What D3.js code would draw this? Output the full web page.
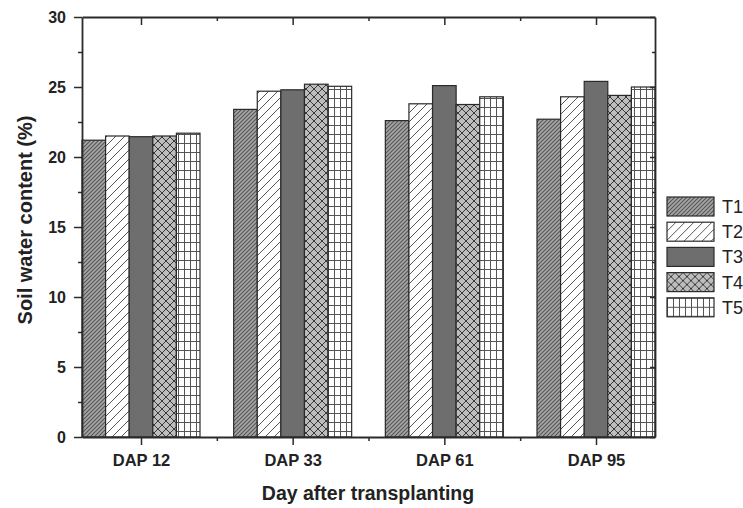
<!DOCTYPE html>
<html>
<head>
<meta charset="utf-8">
<script src="https://cdn.jsdelivr.net/npm/d3@7"></script>
<style>
  html, body { margin: 0; padding: 0; background: #fff; }
  svg { display: block; }
  text { font-family: "Liberation Sans", Arial, sans-serif; fill: #222; }
</style>
</head>
<body>
<svg id="chart" width="743" height="508"></svg>
<script>
// data
var days = ["DAP 12", "DAP 33", "DAP 61", "DAP 95"];
var treatments = ["T1", "T2", "T3", "T4", "T5"];
var T1 = [21.2, 23.4, 22.6, 22.7];
var T2 = [21.5, 24.7, 23.8, 24.3];
var T3 = [21.45, 24.8, 25.1, 25.4];
var T4 = [21.5, 25.2, 23.75, 24.4];
var T5 = [21.7, 25.05, 24.3, 25.0];
var yTicks = [0, 5, 10, 15, 20, 25, 30];

var series = [T1, T2, T3, T4, T5];

var margin = { top: 17, right: 88, bottom: 71, left: 82 };
var width = 743 - margin.left - margin.right;
var height = 508 - margin.top - margin.bottom;

var svg = d3.select("#chart");
var defs = svg.append("defs");

// hatch patterns, one per treatment
function pat(id, size, bg, draw) {
  var p = defs.append("pattern")
    .attr("id", id)
    .attr("patternUnits", "userSpaceOnUse")
    .attr("width", size).attr("height", size);
  p.append("rect").attr("width", size).attr("height", size).attr("fill", bg);
  draw(p, size);
}
pat("p1", 4, "#a6a6a6", function (p, s) {
  p.append("path").attr("d", "M0," + s + "L" + s + ",0M-1,1L1,-1M" + (s - 1) + "," + (s + 1) + "L" + (s + 1) + "," + (s - 1))
    .attr("stroke", "#555").attr("stroke-width", 1.1);
});
pat("p2", 9, "#fff", function (p, s) {
  p.append("path").attr("d", "M0," + s + "L" + s + ",0M-1,1L1,-1M" + (s - 1) + "," + (s + 1) + "L" + (s + 1) + "," + (s - 1))
    .attr("stroke", "#444").attr("stroke-width", 0.9);
});
pat("p3", 4, "#6e6e6e", function () {});
pat("p4", 8, "#bdbdbd", function (p, s) {
  p.append("path").attr("d", "M0,0L" + s + "," + s + "M0," + s + "L" + s + ",0")
    .attr("stroke", "#3a3a3a").attr("stroke-width", 1);
});
defs.append("pattern")
  .attr("id", "p5")
  .attr("patternUnits", "userSpaceOnUse")
  .attr("width", 6).attr("height", 9)
  .call(function (p) {
    p.append("rect").attr("width", 6).attr("height", 9).attr("fill", "#fff");
    p.append("path").attr("d", "M0.5,0V9M0,0.5H6")
      .attr("stroke", "#555").attr("stroke-width", 1);
  });

var fills = ["url(#p1)", "url(#p2)", "url(#p3)", "url(#p4)", "url(#p5)"];

var g = svg.append("g")
  .attr("transform", "translate(" + margin.left + "," + margin.top + ")");

var x0 = d3.scaleBand().domain(days).range([0, width]).paddingInner(0.222).paddingOuter(0);
var x1 = d3.scaleBand().domain(treatments).range([0, x0.bandwidth()]);
var y = d3.scaleLinear().domain([0, 30]).range([height, 0]);

// bars
treatments.forEach(function (t, si) {
  g.append("g").selectAll("rect")
    .data(series[si])
    .enter().append("rect")
    .attr("x", function (d, i) { return x0(days[i]) + x1(t); })
    .attr("y", function (d) { return y(d); })
    .attr("width", x1.bandwidth())
    .attr("height", function (d) { return height - y(d); })
    .attr("fill", fills[si])
    .attr("stroke", "#2a2a2a")
    .attr("stroke-width", 1.2);
});

// axes
var minorY = d3.range(2.5, 30, 5);
var centers = days.map(function (d) { return x0(d) + x0.bandwidth() / 2; });
var mids = d3.range(centers.length - 1).map(function (i) { return (centers[i] + centers[i + 1]) / 2; });

function styleAxis(sel) {
  sel.select(".domain").attr("stroke", "#2a2a2a").attr("stroke-width", 1.8);
  sel.selectAll(".tick line").attr("stroke", "#2a2a2a").attr("stroke-width", 1.5);
}

// left
g.append("g")
  .call(d3.axisLeft(y).tickValues(yTicks).tickSize(8).tickPadding(8).tickSizeOuter(0))
  .call(styleAxis)
  .call(function (a) {
    a.selectAll("text").attr("font-size", 16).attr("font-weight", "bold").attr("fill", "#222");
  });
g.append("g")
  .call(d3.axisLeft(y).tickValues(minorY).tickSize(4).tickFormat("").tickSizeOuter(0))
  .call(styleAxis).select(".domain").remove();

// right
g.append("g").attr("transform", "translate(" + width + ",0)")
  .call(d3.axisLeft(y).tickValues(yTicks).tickSize(5).tickFormat("").tickSizeOuter(0))
  .call(styleAxis);
g.append("g").attr("transform", "translate(" + width + ",0)")
  .call(d3.axisLeft(y).tickValues(minorY).tickSize(3).tickFormat("").tickSizeOuter(0))
  .call(styleAxis).select(".domain").remove();

// bottom
var xLin = d3.scaleLinear().domain([0, width]).range([0, width]);
g.append("g").attr("transform", "translate(0," + height + ")")
  .call(d3.axisBottom(xLin).tickValues(centers).tickSize(8).tickPadding(9).tickSizeOuter(0)
    .tickFormat(function (d, i) { return days[i]; }))
  .call(styleAxis)
  .call(function (a) {
    a.selectAll("text").attr("font-size", 16.5).attr("font-weight", "bold").attr("fill", "#222");
  });
g.append("g").attr("transform", "translate(0," + height + ")")
  .call(d3.axisBottom(xLin).tickValues(mids).tickSize(4).tickFormat("").tickSizeOuter(0))
  .call(styleAxis).select(".domain").remove();

// top
g.append("g")
  .call(d3.axisBottom(xLin).tickValues(centers).tickSize(8).tickFormat("").tickSizeOuter(0))
  .call(styleAxis);
g.append("g")
  .call(d3.axisBottom(xLin).tickValues(mids).tickSize(4).tickFormat("").tickSizeOuter(0))
  .call(styleAxis).select(".domain").remove();

// axis titles
svg.append("text")
  .attr("x", 368).attr("y", 500)
  .attr("text-anchor", "middle")
  .attr("font-size", 19.5).attr("font-weight", "bold")
  .text("Day after transplanting");

svg.append("text")
  .attr("transform", "translate(32,220) rotate(-90)")
  .attr("text-anchor", "middle")
  .attr("font-size", 20).attr("font-weight", "bold")
  .text("Soil water content (%)");

// legend
var legend = svg.append("g").attr("transform", "translate(667,197)");
treatments.forEach(function (t, i) {
  var row = legend.append("g").attr("transform", "translate(0," + (i * 25.2) + ")");
  row.append("rect")
    .attr("width", 47).attr("height", 19)
    .attr("fill", fills[i])
    .attr("stroke", "#2a2a2a").attr("stroke-width", 1.2);
  row.append("text")
    .attr("x", 55).attr("y", 16)
    .attr("font-size", 18)
    .text(t);
});
</script>
</body>
</html>
